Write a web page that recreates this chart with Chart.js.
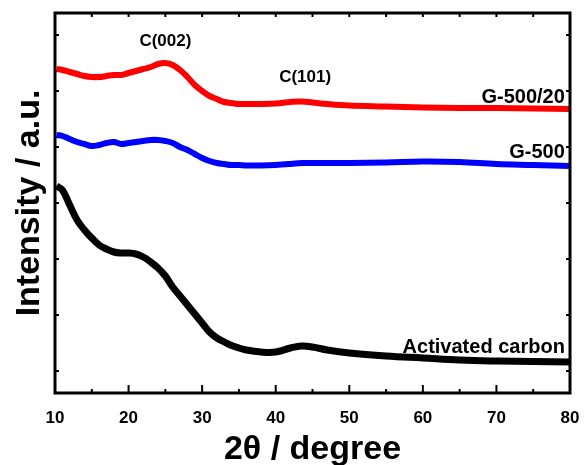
<!DOCTYPE html>
<html>
<head>
    <title>XRD patterns</title>
    <script src="https://cdn.jsdelivr.net/npm/chart.js"></script>
    <style>
        html, body { margin: 0; padding: 0; background: #fff; }
        #wrap { width: 585px; height: 465px; }
    </style>
</head>
<body>
    <div id="wrap"><canvas id="xrd"></canvas></div>
    <script>
        // 2theta grid (degree) and intensities (a.u., offset stacked)
        var twoTheta = [10.2, 11, 12, 13, 14, 15, 16, 17, 18, 19, 20, 21, 22, 23, 24, 25, 26, 27, 28, 29,
                        30, 31, 32, 33, 34, 35, 36, 38, 40, 42, 43.5, 45, 47, 50, 55, 60, 65, 70, 75, 80];
        var g50020 = [324, 323, 321, 319, 317, 316, 316, 317, 318, 318, 320, 322, 324, 326, 329, 330, 328, 323, 316, 308,
                      302, 297, 294, 291, 290, 289, 289, 289, 289.5, 291, 291.5, 290.5, 289, 287.5, 286.5, 285.5, 285, 285, 284.5, 284];
        var g500 = [258, 257, 254, 251, 249, 247, 248, 250, 251, 249, 250, 251, 252, 253, 253, 252, 250, 246, 243, 239,
                    235, 232, 230, 229, 228, 228, 227.5, 227.5, 228, 229, 230, 230, 230, 230, 230.5, 231.5, 231, 229, 228, 227];
        var activated = [207, 203, 188, 173, 163, 155, 148, 144, 141, 140, 140, 139, 136, 131, 125, 117, 106, 97, 88, 79,
                         70, 61, 55, 51, 47.5, 45, 43, 41, 41, 45, 47, 46, 43, 40, 37, 35, 33, 32, 31.5, 31];
        var xTicks = [10, 20, 30, 40, 50, 60, 70, 80];
        var yTicks = [22, 78, 134, 190, 246, 302, 358];

        var FONT = "'Liberation Sans', Arial, sans-serif";

        function pts(ys) {
            return twoTheta.map(function (x, i) { return { x: x, y: ys[i] }; });
        }

        var notes = [
            { text: 'C(002)', x: 25, y: 347, size: 17, align: 'center' },
            { text: 'C(101)', x: 44, y: 311, size: 17, align: 'center' },
            { text: 'G-500/20', x: 79.3, y: 290, size: 20, align: 'right' },
            { text: 'G-500', x: 79.3, y: 235, size: 20, align: 'right' },
            { text: 'Activated carbon', x: 79.3, y: 40, size: 20, align: 'right' }
        ];

        var framePlugin = {
            id: 'frame',
            afterDatasetsDraw: function (chart) {
                var ctx = chart.ctx, a = chart.chartArea;
                var xs = chart.scales.x, ys = chart.scales.y;
                ctx.save();
                ctx.fillStyle = '#000';
                ctx.textBaseline = 'alphabetic';
                notes.forEach(function (n) {
                    ctx.font = 'bold ' + n.size + 'px ' + FONT;
                    ctx.textAlign = n.align;
                    ctx.fillText(n.text, xs.getPixelForValue(n.x), ys.getPixelForValue(n.y));
                });

                ctx.strokeStyle = '#000';
                ctx.lineWidth = 3;
                ctx.strokeRect(a.left, a.top, a.right - a.left, a.bottom - a.top);
                ctx.lineWidth = 2;
                ctx.beginPath();
                for (var v = 15; v < 80; v += 5) {
                    var px = xs.getPixelForValue(v);
                    var major = v % 10 === 0;
                    ctx.moveTo(px, a.bottom);
                    ctx.lineTo(px, a.bottom - (major ? 8 : 4));
                    ctx.moveTo(px, a.top);
                    ctx.lineTo(px, a.top + 4);
                }
                yTicks.forEach(function (t) {
                    var py = ys.getPixelForValue(t);
                    ctx.moveTo(a.left, py);
                    ctx.lineTo(a.left + 4, py);
                    ctx.moveTo(a.right, py);
                    ctx.lineTo(a.right - 4, py);
                });
                ctx.stroke();
                ctx.restore();
            }
        };

        function series(data, color, width) {
            return {
                data: pts(data),
                borderColor: color,
                borderWidth: width,
                pointRadius: 0,
                tension: 0.4,
                fill: false
            };
        }

        new Chart(document.getElementById('xrd'), {
            type: 'line',
            data: {
                datasets: [
                    series(g50020, '#ff0000', 6),
                    series(g500, '#0000ff', 6),
                    series(activated, '#000000', 7)
                ]
            },
            options: {
                responsive: true,
                maintainAspectRatio: false,
                animation: false,
                layout: { padding: { top: 13, right: 15, left: 0, bottom: 0 } },
                plugins: { legend: { display: false }, tooltip: { enabled: false } },
                scales: {
                    x: {
                        type: 'linear',
                        min: 10,
                        max: 80,
                        afterBuildTicks: function (s) { s.ticks = xTicks.map(function (v) { return { value: v }; }); },
                        afterFit: function (s) { s.height = 72; s.paddingLeft = 0; s.paddingRight = 0; },
                        grid: { display: false, drawTicks: false },
                        border: { display: false },
                        ticks: {
                            padding: 15,
                            color: '#000',
                            font: { family: FONT, size: 17, weight: 'bold' }
                        },
                        title: {
                            display: true,
                            text: '2θ / degree',
                            color: '#000',
                            padding: { top: 6, bottom: 0 },
                            font: { family: FONT, size: 34, weight: 'bold', lineHeight: 0.9 }
                        }
                    },
                    y: {
                        type: 'linear',
                        min: 0,
                        max: 380,
                        afterBuildTicks: function (s) { s.ticks = yTicks.map(function (v) { return { value: v }; }); },
                        afterFit: function (s) { s.width = 55; s.paddingTop = 0; s.paddingBottom = 0; },
                        grid: { display: false, drawTicks: false },
                        border: { display: false },
                        ticks: { display: false },
                        title: {
                            display: true,
                            text: 'Intensity / a.u.',
                            color: '#000',
                            padding: { top: 9, bottom: 0 },
                            font: { family: FONT, size: 34, weight: 'bold' }
                        }
                    }
                }
            },
            plugins: [framePlugin]
        });
    </script>
</body>
</html>
